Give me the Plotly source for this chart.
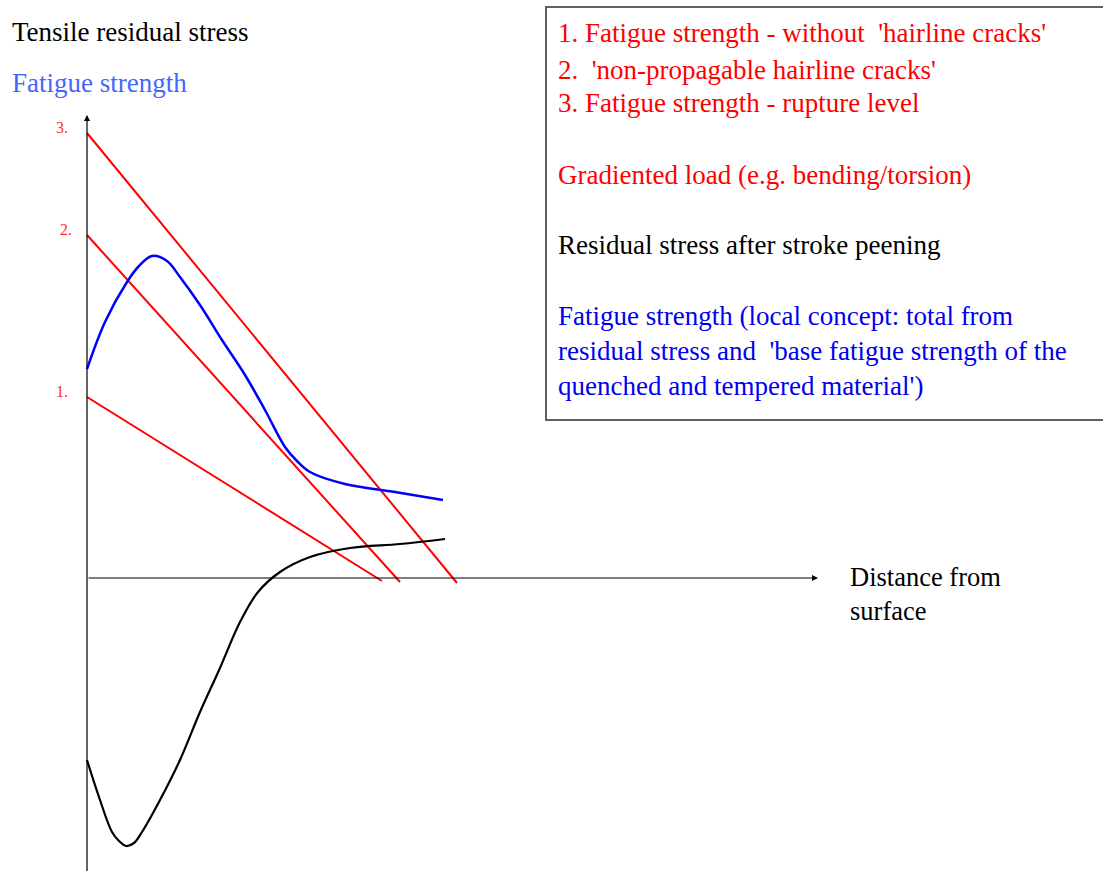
import plotly.graph_objects as go

# ---- data (x: distance from surface, y: stress; arbitrary units, origin = surface) ----
red_labels = ["1.", "2.", "3."]
red_y_start = [181, 343, 445]        # stress at surface
red_x_end = [295, 313, 370]          # distance where load line reaches zero
red_y_end = [-3, -4, -5]

fatigue_x = [0, 18, 40, 52, 65, 80, 93, 113, 135, 158, 178, 198, 210, 223, 258, 308, 356]
fatigue_y = [209, 256, 296, 312, 322, 317, 301, 273, 238, 203, 168, 131, 117, 106, 94, 86, 78]

resid_x = [0, 13, 25, 32, 39, 47, 55, 73, 93, 113, 133, 153, 171, 193, 223, 263, 313, 358]
resid_y = [-182, -222, -254, -263, -268, -265, -254, -222, -182, -134, -90, -44, -14, 6, 21, 30, 34, 39]

legend_red = ["1. Fatigue strength - without  'hairline cracks'",
              "2.  'non-propagable hairline cracks'",
              "3. Fatigue strength - rupture level",
              "Gradiented load (e.g. bending/torsion)"]
legend_black = "Residual stress after stroke peening"
legend_blue = ["Fatigue strength (local concept: total from",
               "residual stress and  'base fatigue strength of the",
               "quenched and tempered material')"]

SERIF = "Liberation Serif, Times New Roman, serif"

fig = go.Figure()

for i in range(3):
    fig.add_trace(go.Scatter(x=[0, red_x_end[i]], y=[red_y_start[i], red_y_end[i]],
                             mode="lines", line=dict(color="#ff0000", width=2),
                             hoverinfo="skip", showlegend=False))

fig.add_trace(go.Scatter(x=fatigue_x, y=fatigue_y, mode="lines",
                         line=dict(color="#0000ff", width=2.5, shape="spline", smoothing=1.0,
                                   simplify=False),
                         showlegend=False, hoverinfo="skip"))
fig.add_trace(go.Scatter(x=resid_x, y=resid_y, mode="lines",
                         line=dict(color="#000000", width=2.2, shape="spline", smoothing=1.0,
                                   simplify=False),
                         showlegend=False, hoverinfo="skip"))

# axes with arrows
fig.add_annotation(x=0, y=463, ax=0, ay=-300, xref="x", yref="y", axref="x", ayref="y",
                   showarrow=True, arrowhead=2, arrowsize=1, arrowwidth=1.2, arrowcolor="#000000", text="")
fig.add_annotation(x=731, y=0, ax=0, ay=0, xref="x", yref="y", axref="x", ayref="y",
                   showarrow=True, arrowhead=2, arrowsize=1, arrowwidth=1.2, arrowcolor="#000000", text="")

# level labels
label_x = [-33, -29, -33]
for i in range(3):
    fig.add_annotation(x=label_x[i], y=red_y_start[i] + 6, text=red_labels[i], showarrow=False,
                       xanchor="left", yanchor="middle",
                       font=dict(family=SERIF, size=16, color="#ff3030"))

# axis titles
fig.add_annotation(x=-77, y=546, text="Tensile residual stress", showarrow=False,
                   xanchor="left", yanchor="middle", font=dict(family=SERIF, size=27, color="#000000"))
fig.add_annotation(x=-77, y=495, text="Fatigue strength", showarrow=False,
                   xanchor="left", yanchor="middle", font=dict(family=SERIF, size=27, color="#4466ff"))
fig.add_annotation(x=761, y=1, text="Distance from", showarrow=False,
                   xanchor="left", yanchor="middle", font=dict(family=SERIF, size=26.5, color="#000000"))
fig.add_annotation(x=761, y=-33, text="surface", showarrow=False,
                   xanchor="left", yanchor="middle", font=dict(family=SERIF, size=26.5, color="#000000"))

# legend box
fig.add_shape(type="rect", x0=459, x1=1080, y0=158, y1=571, xref="x", yref="y",
              line=dict(color="#606060", width=2), fillcolor="rgba(0,0,0,0)")
leg_rows_y = [545, 508, 475, 403]
for t, yy in zip(legend_red, leg_rows_y):
    fig.add_annotation(x=469, y=yy, text=t, showarrow=False, xanchor="left", yanchor="middle",
                       font=dict(family=SERIF, size=27, color="#ff0000"))
fig.add_annotation(x=469, y=333, text=legend_black, showarrow=False, xanchor="left", yanchor="middle",
                   font=dict(family=SERIF, size=27, color="#000000"))
for t, yy in zip(legend_blue, [262, 227, 192]):
    fig.add_annotation(x=469, y=yy, text=t, showarrow=False, xanchor="left", yanchor="middle",
                       font=dict(family=SERIF, size=27, color="#0000ee"))

fig.update_xaxes(range=[-87, 1016], visible=False, fixedrange=True)
fig.update_yaxes(range=[-293, 578], visible=False, fixedrange=True)
fig.update_layout(width=1103, height=871, margin=dict(l=0, r=0, t=0, b=0),
                  plot_bgcolor="white", paper_bgcolor="white", showlegend=False)

fig.write_html("out.html", config={"displayModeBar": False},
               post_script="document.body.style.margin='0';document.body.style.overflow='hidden';")
